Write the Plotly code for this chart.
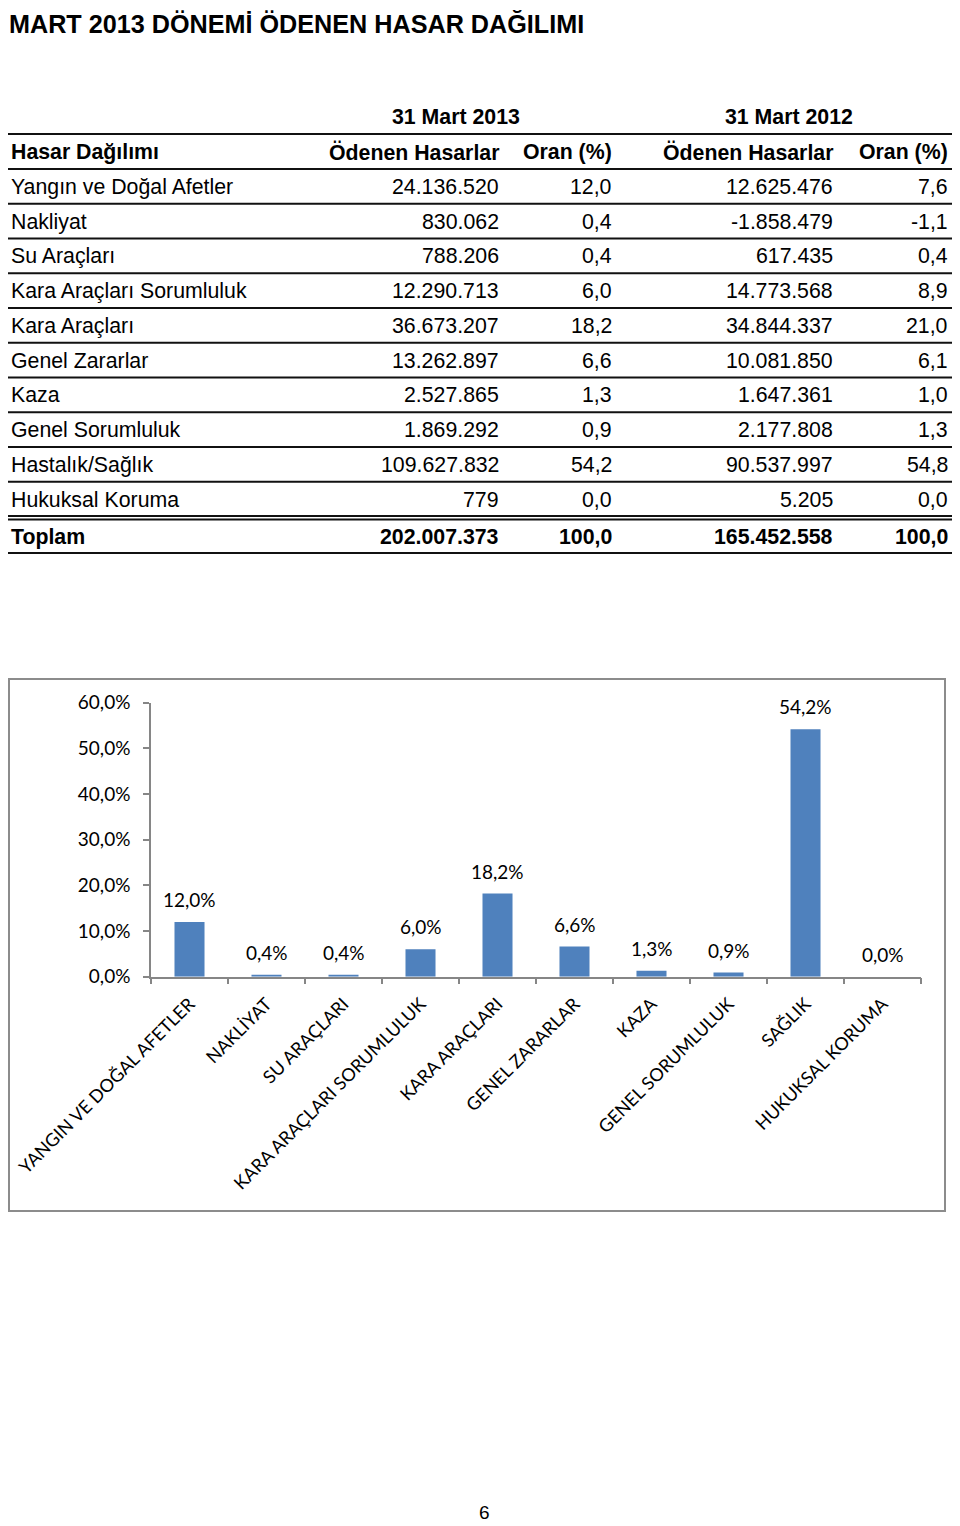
import plotly.graph_objects as go

# ---------------- data ----------------
title_text = "MART 2013 DÖNEMİ ÖDENEN HASAR DAĞILIMI"
period_labels = ["31 Mart 2013", "31 Mart 2012"]
col_headers = ["Hasar Dağılımı", "Ödenen Hasarlar", "Oran (%)", "Ödenen Hasarlar", "Oran (%)"]
branches = ["Yangın ve Doğal Afetler", "Nakliyat", "Su Araçları", "Kara Araçları Sorumluluk",
            "Kara Araçları", "Genel Zararlar", "Kaza", "Genel Sorumluluk", "Hastalık/Sağlık",
            "Hukuksal Koruma"]
paid_2013 = [24136520, 830062, 788206, 12290713, 36673207, 13262897, 2527865, 1869292, 109627832, 779]
ratio_2013 = [12.0, 0.4, 0.4, 6.0, 18.2, 6.6, 1.3, 0.9, 54.2, 0.0]
paid_2012 = [12625476, -1858479, 617435, 14773568, 34844337, 10081850, 1647361, 2177808, 90537997, 5205]
ratio_2012 = [7.6, -1.1, 0.4, 8.9, 21.0, 6.1, 1.0, 1.3, 54.8, 0.0]
total_label = "Toplam"
total_2013 = 202007373
total_ratio_2013 = 100.0
total_2012 = 165452558
total_ratio_2012 = 100.0

chart_categories = ["YANGIN VE DOĞAL AFETLER", "NAKLİYAT", "SU ARAÇLARI", "KARA ARAÇLARI SORUMLULUK",
                    "KARA ARAÇLARI", "GENEL ZARARLAR", "KAZA", "GENEL SORUMLULUK", "SAĞLIK",
                    "HUKUKSAL KORUMA"]
chart_values = ratio_2013
page_number = "6"

# ---------------- helpers ----------------
# the page body adds an 8px margin; work in window pixels and convert
OFF = 8
W, H = 960 - OFF, 1526 - OFF
def px(x):
    return (x - OFF) / W
def py(y):
    return 1 - (y - OFF) / H

def fmt_int(v):
    return f"{v:,}".replace(",", ".")
def fmt_ratio(v):
    return f"{v:.1f}".replace(".", ",")

TFONT = "Liberation Sans, Arial, sans-serif"
CFONT = "Lato, Noto Sans, sans-serif"

annotations = []
shapes = []

def txt(x, y, s, anchor="left", size=21.3, bold=False, font=TFONT, color="black"):
    annotations.append(dict(
        x=px(x), y=py(y), xref="paper", yref="paper", text=f"<b>{s}</b>" if bold else s,
        showarrow=False, xanchor=anchor, yanchor="middle",
        font=dict(family=font, size=size, color=color), borderpad=0))

def hline(y, width=2):
    shapes.append(dict(type="line", xref="paper", yref="paper", x0=px(8), x1=px(958),
                       y0=py(y), y1=py(y), line=dict(color="#111111", width=width)))

# title
txt(8, 24, title_text, size=25.2, bold=True)

# table layout
col_right = [500, 613, 834, 949]
period_centers = [456, 789]
row_pitch = 34.74
first_line = 169.0

txt(period_centers[0], 117, period_labels[0], anchor="center", bold=True)
txt(period_centers[1], 117, period_labels[1], anchor="center", bold=True)
hline(134)

header_y = 152
txt(10, header_y, col_headers[0], bold=True)
for cx, h in zip(col_right, col_headers[1:]):
    txt(cx, header_y, h, anchor="right", bold=True)

for i, name in enumerate(branches):
    line_y = first_line + row_pitch * i
    hline(line_y)
    ty = line_y + 18
    txt(10, ty, name)
    vals = [fmt_int(paid_2013[i]), fmt_ratio(ratio_2013[i]), fmt_int(paid_2012[i]), fmt_ratio(ratio_2012[i])]
    for cx, v in zip(col_right, vals):
        txt(cx, ty, v, anchor="right")

hline(516)
hline(519.5)
ty = 537
txt(10, ty, total_label, bold=True)
tvals = [fmt_int(total_2013), fmt_ratio(total_ratio_2013), fmt_int(total_2012), fmt_ratio(total_ratio_2012)]
for cx, v in zip(col_right, tvals):
    txt(cx, ty, v, anchor="right", bold=True)
hline(553)

# chart frame
shapes.append(dict(type="rect", xref="paper", yref="paper", x0=px(9), x1=px(945),
                   y0=py(1211), y1=py(679), line=dict(color="#8c8c8c", width=2),
                   fillcolor="rgba(0,0,0,0)", layer="below"))

# bar labels
for c, v in zip(chart_categories, chart_values):
    annotations.append(dict(x=c, y=v, xref="x", yref="y", text=f"{fmt_ratio(v)}%",
                            showarrow=False, yanchor="bottom", yshift=9,
                            font=dict(family=CFONT, size=19, color="black")))

# page number
txt(484, 1512, page_number, anchor="center", size=19)

fig = go.Figure(go.Bar(x=chart_categories, y=chart_values, marker=dict(color="#4F81BD", line=dict(width=0)),
                       width=0.39, hoverinfo="x+y"))

fig.update_layout(
    template="none",
    width=W, height=H,
    margin=dict(l=0, r=0, t=0, b=0),
    paper_bgcolor="white", plot_bgcolor="white",
    separators=",.",
    showlegend=False,
    annotations=annotations,
    shapes=shapes,
    xaxis=dict(domain=[px(151), px(921)], type="category", showgrid=False, zeroline=False,
               showline=True, linecolor="#868686", linewidth=1.5,
               ticks="outside", ticklen=6, tickcolor="#868686", tickwidth=1.5, tickson="boundaries",
               tickangle=-45, ticklabelstandoff=8,
               tickfont=dict(family=CFONT, size=18, color="black"), automargin=False),
    yaxis=dict(domain=[py(976.7), py(702.7)], range=[0, 60], dtick=10, tickformat=".1f", ticksuffix="%",
               showgrid=False, zeroline=False, showline=True, linecolor="#868686", linewidth=1.5,
               ticks="outside", ticklen=6, tickcolor="#868686", tickwidth=1.5, ticklabelstandoff=9,
               tickfont=dict(family=CFONT, size=19, color="black"), automargin=False),
)

fig.write_html("out.html")
